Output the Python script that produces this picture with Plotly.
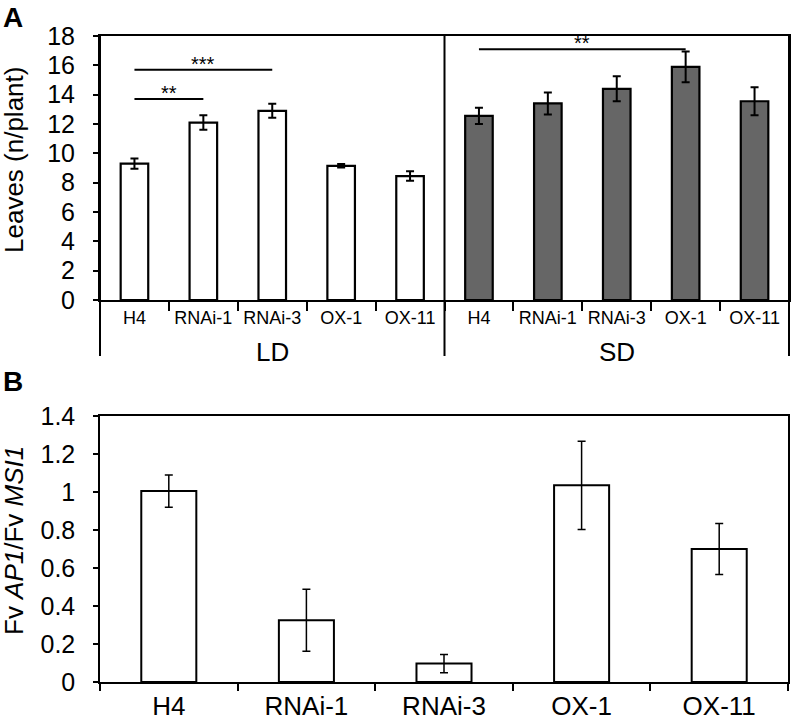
import plotly.graph_objects as go

# ---------------- data ----------------
genotypes = ["H4", "RNAi-1", "RNAi-3", "OX-1", "OX-11"]
conditions = ["LD", "SD"]

ld_leaves = [9.3, 12.1, 12.9, 9.15, 8.45]
ld_err = [0.35, 0.5, 0.48, 0.12, 0.32]
sd_leaves = [12.55, 13.4, 14.4, 15.9, 13.55]
sd_err = [0.55, 0.75, 0.85, 1.05, 0.95]

ap1_ratio = [1.005, 0.325, 0.097, 1.035, 0.70]
ap1_err = [0.085, 0.163, 0.048, 0.232, 0.134]

# significance: (condition, genotype from, genotype to, level, label)
sig_a = [
    ("LD", "H4", "RNAi-1", 13.7, "**"),
    ("LD", "H4", "RNAi-3", 15.7, "***"),
    ("SD", "H4", "OX-1", 17.1, "**"),
]

y_a_ticks = list(range(0, 19, 2))
y_b_ticks = [0, 0.2, 0.4, 0.6, 0.8, 1, 1.2, 1.4]

# ---------------- figure ----------------
FONT = "Liberation Sans, Arial, sans-serif"
W, H = 792, 720


def key(cond, g):
    return f"{cond} {g}"


keys_ld = [key("LD", g) for g in genotypes]
keys_sd = [key("SD", g) for g in genotypes]
all_keys = keys_ld + keys_sd

fig = go.Figure()

fig.add_trace(go.Bar(
    x=keys_ld, y=ld_leaves, width=0.4,
    marker=dict(color="white", line=dict(color="black", width=2.2)),
    error_y=dict(type="data", array=ld_err, color="black", thickness=2, width=4),
    xaxis="x", yaxis="y", showlegend=False,
))
fig.add_trace(go.Bar(
    x=keys_sd, y=sd_leaves, width=0.4,
    marker=dict(color="#666666", line=dict(color="black", width=2.2)),
    error_y=dict(type="data", array=sd_err, color="black", thickness=2, width=4),
    xaxis="x", yaxis="y", showlegend=False,
))

annotations = []
for cond, g0, g1, lvl, lab in sig_a:
    k0, k1 = key(cond, g0), key(cond, g1)
    fig.add_trace(go.Scatter(
        x=[k0, k1], y=[lvl, lvl], mode="lines",
        line=dict(color="black", width=2), xaxis="x", yaxis="y",
        showlegend=False, hoverinfo="skip",
    ))
    mid = (all_keys.index(k0) + all_keys.index(k1)) / 2
    annotations.append(dict(
        x=mid, y=lvl, xref="x", yref="y", text=lab, showarrow=False,
        yanchor="bottom", yshift=-7, font=dict(size=20, color="black", family=FONT),
    ))

fig.add_trace(go.Bar(
    x=genotypes, y=ap1_ratio, width=0.4,
    marker=dict(color="white", line=dict(color="black", width=2)),
    error_y=dict(type="data", array=ap1_err, color="black", thickness=1.5, width=4),
    xaxis="x2", yaxis="y2", showlegend=False,
))

# domains (from pixel layout)
xa_dom = [100 / W, 789 / W]
ya_dom = [1 - 300 / H, 1 - 36 / H]
xb_dom = [100 / W, 788 / W]
yb_dom = [1 - 682 / H, 1 - 416 / H]

# group labels LD / SD
n = len(genotypes)
for i, cond in enumerate(conditions):
    annotations.append(dict(
        x=i * n + (n - 1) / 2, y=1 - 352 / H, xref="x", yref="paper",
        text=cond, showarrow=False, yanchor="middle",
        font=dict(size=26, color="black", family=FONT),
    ))

# y-axis titles
annotations.append(dict(
    x=14 / W, y=1 - 160 / H, xref="paper", yref="paper", text="Leaves (n/plant)",
    textangle=-90, showarrow=False, xanchor="center", yanchor="middle",
    font=dict(size=26, color="black", family=FONT),
))
annotations.append(dict(
    x=14 / W, y=1 - 541 / H, xref="paper", yref="paper",
    text="Fv <i>AP1</i>/Fv <i>MSI1</i>",
    textangle=-90, showarrow=False, xanchor="center", yanchor="middle",
    font=dict(size=26, color="black", family=FONT),
))
# panel letters
annotations.append(dict(
    x=1 / W, y=1 - 0 / H, xref="paper", yref="paper", text="<b>A</b>",
    showarrow=False, xanchor="left", yanchor="top",
    font=dict(size=28, color="black", family=FONT),
))
annotations.append(dict(
    x=1 / W, y=1 - 364 / H, xref="paper", yref="paper", text="<b>B</b>",
    showarrow=False, xanchor="left", yanchor="top",
    font=dict(size=28, color="black", family=FONT),
))

# group divider lines in panel A (at group boundaries)
shapes = []
below = -(356 - 300) / (300 - 36)
for k in range(len(conditions) + 1):
    shapes.append(dict(
        type="line", xref="x domain", yref="y domain",
        x0=k / len(conditions), x1=k / len(conditions), y0=below, y1=1,
        line=dict(color="black", width=2),
    ))

fig.update_layout(
    width=W, height=H,
    margin=dict(l=0, r=0, t=0, b=0, autoexpand=False),
    paper_bgcolor="white", plot_bgcolor="white",
    barmode="overlay",
    font=dict(family=FONT, color="black"),
    annotations=annotations,
    shapes=shapes,
    xaxis=dict(
        domain=xa_dom, anchor="y", type="category", automargin=False,
        categoryorder="array", categoryarray=all_keys,
        tickvals=all_keys, ticktext=genotypes * 2,
        tickson="boundaries", ticks="outside", ticklen=9, tickwidth=2,
        tickcolor="black", tickfont=dict(size=18, family=FONT, color="black"),
        showline=True, linecolor="black", linewidth=2, mirror=True,
        showgrid=False, zeroline=False, range=[-0.5, 9.5],
    ),
    yaxis=dict(
        domain=ya_dom, anchor="x", range=[0, 18], tickvals=y_a_ticks,
        automargin=False,
        ticks="outside", ticklen=5, tickwidth=2, tickcolor="black",
        ticklabelstandoff=13,
        tickfont=dict(size=25, family=FONT, color="black"),
        showline=True, linecolor="black", linewidth=2, mirror=True,
        showgrid=False, zeroline=False,
    ),
    xaxis2=dict(
        domain=xb_dom, anchor="y2", type="category", automargin=False,
        tickson="boundaries", ticks="outside", ticklen=7, tickwidth=1.5,
        tickcolor="black", tickfont=dict(size=26, family=FONT, color="black"),
        showline=True, linecolor="black", linewidth=1.5, mirror=True,
        showgrid=False, zeroline=False, range=[-0.5, 4.5],
    ),
    yaxis2=dict(
        domain=yb_dom, anchor="x2", range=[0, 1.4], tickvals=y_b_ticks,
        automargin=False,
        ticks="outside", ticklen=5, tickwidth=1.5, tickcolor="black",
        ticklabelstandoff=13,
        tickfont=dict(size=25, family=FONT, color="black"),
        showline=True, linecolor="black", linewidth=1.5, mirror=True,
        showgrid=False, zeroline=False,
    ),
)

fig.write_html(
    "out.html",
    config={"displayModeBar": False},
    post_script="document.body.style.margin='0px';document.body.style.overflow='hidden';",
)
